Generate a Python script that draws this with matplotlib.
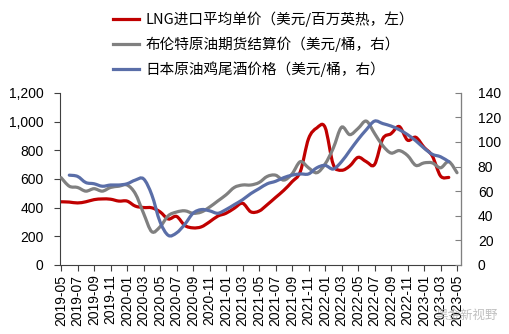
import numpy as np
import matplotlib
matplotlib.use("Agg")
from matplotlib import pyplot as plt
from matplotlib.path import Path
from matplotlib.patches import PathPatch
from matplotlib.lines import Line2D
from matplotlib.ticker import FuncFormatter

plt.rcParams['font.family'] = ['Liberation Sans', 'Noto Sans CJK SC', 'DejaVu Sans']

# monthly, 2019-05 .. 2023-05
months = ["%d-%02d" % (2019 + (4 + i) // 12, (4 + i) % 12 + 1) for i in range(49)]

lng = [440, 438, 432, 440, 455, 460, 458, 445, 445, 410, 400, 398, 370, 320, 338,
       275, 258, 265, 300, 340, 360, 395, 430, 370, 375, 420, 470, 520, 580, 650,
       880, 955, 960, 700, 660, 690, 750, 720, 700, 880, 915, 965, 870, 890, 820,
       760, 620, 610]
brent = [71, 64, 63, 60, 62, 60, 63, 64, 65, 58, 42, 27, 31, 40, 43, 44, 42, 43,
         47, 52, 57, 63, 65, 65, 67, 72, 73, 69, 74, 84, 79, 75, 82, 95, 112, 106,
         111, 117, 107, 97, 91, 93, 89, 81, 83, 83, 79, 84, 75]
# japan crude cocktail starts 2019-06
jcc = [73, 72, 67, 66, 64, 65, 65, 66, 69, 70, 57, 35, 24, 26, 33, 42, 45, 44,
       42, 45, 49, 53, 58, 62, 66, 68, 71, 73, 74, 74, 79, 81, 78, 84, 93, 102,
       110, 117, 115, 113, 110, 106, 101, 95, 90, 88, 84]

labels = ["LNG进口平均单价（美元/百万英热，左）",
          "布伦特原油期货结算价（美元/桶，右）",
          "日本原油鸡尾酒价格（美元/桶，右）"]
colors = ["#C00000", "#808080", "#5A6EA8"]


def smooth_path(x, y):
    # catmull-rom -> cubic bezier, like excel's smoothed line
    p = np.column_stack([x, y]).astype(float)
    verts = [p[0]]
    codes = [Path.MOVETO]
    n = len(p)
    for i in range(n - 1):
        p0 = p[i - 1] if i > 0 else p[i]
        p3 = p[i + 2] if i + 2 < n else p[i + 1]
        c1 = p[i] + (p[i + 1] - p0) / 6
        c2 = p[i + 1] - (p3 - p[i]) / 6
        verts += [c1, c2, p[i + 1]]
        codes += [Path.CURVE4] * 3
    return Path(verts, codes)


fig = plt.figure(figsize=(5.09, 3.34), dpi=100)
ax = fig.add_axes([0.118, 0.207, 0.788, 0.515])
ax2 = ax.twinx()

ax.add_patch(PathPatch(smooth_path(range(len(lng)), lng), fill=False,
                       edgecolor=colors[0], lw=2.3, capstyle='round'))
ax2.add_patch(PathPatch(smooth_path(range(len(brent)), brent), fill=False,
                        edgecolor=colors[1], lw=2.3, capstyle='round'))
ax2.add_patch(PathPatch(smooth_path(range(1, len(jcc) + 1), jcc), fill=False,
                        edgecolor=colors[2], lw=2.3, capstyle='round'))

ax.set_xlim(-0.12, 48.5)
ax.set_ylim(0, 1200)
ax2.set_ylim(0, 140)
ax.set_yticks(range(0, 1201, 200))
ax2.set_yticks(range(0, 141, 20))
ax.yaxis.set_major_formatter(FuncFormatter(lambda v, p: "{:,.0f}".format(v)))
ax.set_xticks(range(0, 49, 2))
ax.set_xticklabels(months[::2], rotation=90)

for a in (ax, ax2):
    a.spines['top'].set_visible(False)
    a.tick_params(labelsize=10, length=4, width=0.8)
ax.spines['left'].set_color('#404040')
ax.spines['bottom'].set_color('#404040')
ax2.spines['left'].set_visible(False)
ax2.spines['bottom'].set_visible(False)
ax2.spines['right'].set_color('#808080')
ax.tick_params(axis='y', colors='#404040', labelcolor='black', pad=8)
ax.tick_params(axis='x', colors='#404040', labelcolor='black', pad=3)
ax2.tick_params(axis='y', direction='in', colors='#808080', labelcolor='black', pad=12)

handles = [Line2D([], [], color=c, lw=2.3) for c in colors]
fig.legend(handles, labels, loc='upper left', bbox_to_anchor=(0.222, 0.965),
           frameon=False, prop={'family': ['Noto Sans CJK SC'], 'size': 10.5},
           handlelength=1.75, handletextpad=0.5, labelspacing=0.62,
           borderaxespad=0, borderpad=0)

fig.text(0.855, 0.045, "黑金新视野", family=['Noto Sans CJK SC'], fontsize=9,
         color='#b0b0b0', alpha=0.8)

fig.savefig("out.png", dpi=100)
